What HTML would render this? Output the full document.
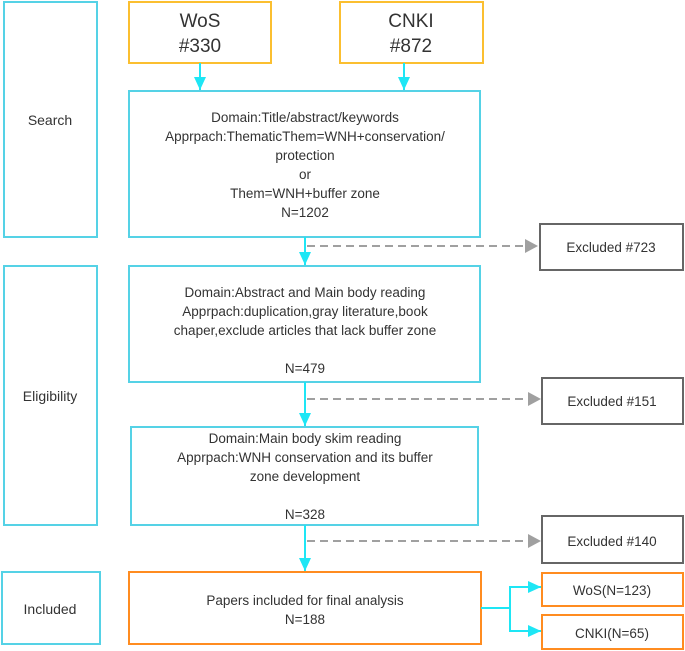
<!DOCTYPE html>
<html><head><style>body{margin:0;background:#fff}svg{display:block}text{font-family:"Liberation Sans",sans-serif;fill:#333;text-anchor:middle}</style></head><body>
<svg width="685" height="651" viewBox="0 0 685 651" xmlns="http://www.w3.org/2000/svg">
<defs>
<marker id="c" markerWidth="12" markerHeight="14" refX="13" refY="6" orient="auto" markerUnits="userSpaceOnUse"><path d="M0,0L13,6L0,12z" fill="#1ee6f5"/></marker>
<marker id="g" markerWidth="14" markerHeight="14" refX="13" refY="7" orient="auto" markerUnits="userSpaceOnUse"><path d="M0,0L13,7L0,14z" fill="#a0a0a0"/></marker>
</defs>
<g fill="none" stroke-width="2">
<rect x="4" y="2" width="93" height="235" stroke="#55d2e6"/>
<rect x="4" y="266" width="93" height="259" stroke="#55d2e6"/>
<rect x="2" y="572" width="98" height="72" stroke="#55d2e6"/>
<rect x="129" y="2" width="142" height="61" stroke="#fbbf30"/>
<rect x="340" y="2" width="143" height="61" stroke="#fbbf30"/>
<rect x="129" y="91" width="351" height="146" stroke="#55d2e6"/>
<rect x="129" y="266" width="351" height="116" stroke="#55d2e6"/>
<rect x="131" y="427" width="347" height="98" stroke="#55d2e6"/>
<rect x="129" y="572" width="352" height="72" stroke="#ff8c20"/>
<rect x="540" y="224" width="143" height="46" stroke="#666"/>
<rect x="542" y="378" width="141" height="46" stroke="#666"/>
<rect x="542" y="516" width="141" height="47" stroke="#666"/>
<rect x="542" y="573" width="141" height="33" stroke="#ff8c20"/>
<rect x="542" y="615" width="141" height="34" stroke="#ff8c20"/>
<g stroke="#1ee6f5">
<line x1="200" y1="63" x2="200" y2="90" marker-end="url(#c)"/>
<line x1="404" y1="63" x2="404" y2="90" marker-end="url(#c)"/>
<line x1="305" y1="237" x2="305" y2="265" marker-end="url(#c)"/>
<line x1="305" y1="382" x2="305" y2="426" marker-end="url(#c)"/>
<line x1="305" y1="525" x2="305" y2="571" marker-end="url(#c)"/>
<polyline points="481,608 510,608 510,587 541,587" marker-end="url(#c)"/>
<polyline points="510,608 510,631 541,631" marker-end="url(#c)"/>
</g>
<g stroke="#a0a0a0" stroke-dasharray="8,5">
<line x1="307" y1="246" x2="538" y2="246" marker-end="url(#g)"/>
<line x1="307" y1="399" x2="541" y2="399" marker-end="url(#g)"/>
<line x1="307" y1="541" x2="541" y2="541" marker-end="url(#g)"/>
</g>
</g>
<g font-size="14" transform="scale(1,1)">
<text x="50" y="125">Search</text>
<text x="50" y="401">Eligibility</text>
<text x="50" y="614">Included</text>
</g>
<g font-size="19">
<text x="200" y="27">WoS</text><text x="200" y="52">#330</text>
<text x="411" y="27">CNKI</text><text x="411" y="52">#872</text>
</g>
<g font-size="13.5">
<text x="305" y="122">Domain:Title/abstract/keywords</text>
<text x="305" y="141">Apprpach:ThematicThem=WNH+conservation/</text>
<text x="305" y="160">protection</text>
<text x="305" y="179">or</text>
<text x="305" y="198">Them=WNH+buffer zone</text>
<text x="305" y="217">N=1202</text>
<text x="305" y="297">Domain:Abstract and Main body reading</text>
<text x="305" y="316">Apprpach:duplication,gray literature,book</text>
<text x="305" y="335">chaper,exclude articles that lack buffer zone</text>
<text x="305" y="373">N=479</text>
<text x="305" y="443">Domain:Main body skim reading</text>
<text x="305" y="462">Apprpach:WNH conservation and  its buffer</text>
<text x="305" y="481">zone development</text>
<text x="305" y="519">N=328</text>
<text x="305" y="605">Papers included for final analysis</text>
<text x="305" y="624">N=188</text>
<text x="611" y="252">Excluded #723</text>
<text x="612" y="406">Excluded #151</text>
<text x="612" y="546">Excluded #140</text>
<text x="612" y="595">WoS(N=123)</text>
<text x="612" y="638">CNKI(N=65)</text>
</g>
</svg>
</body></html>
